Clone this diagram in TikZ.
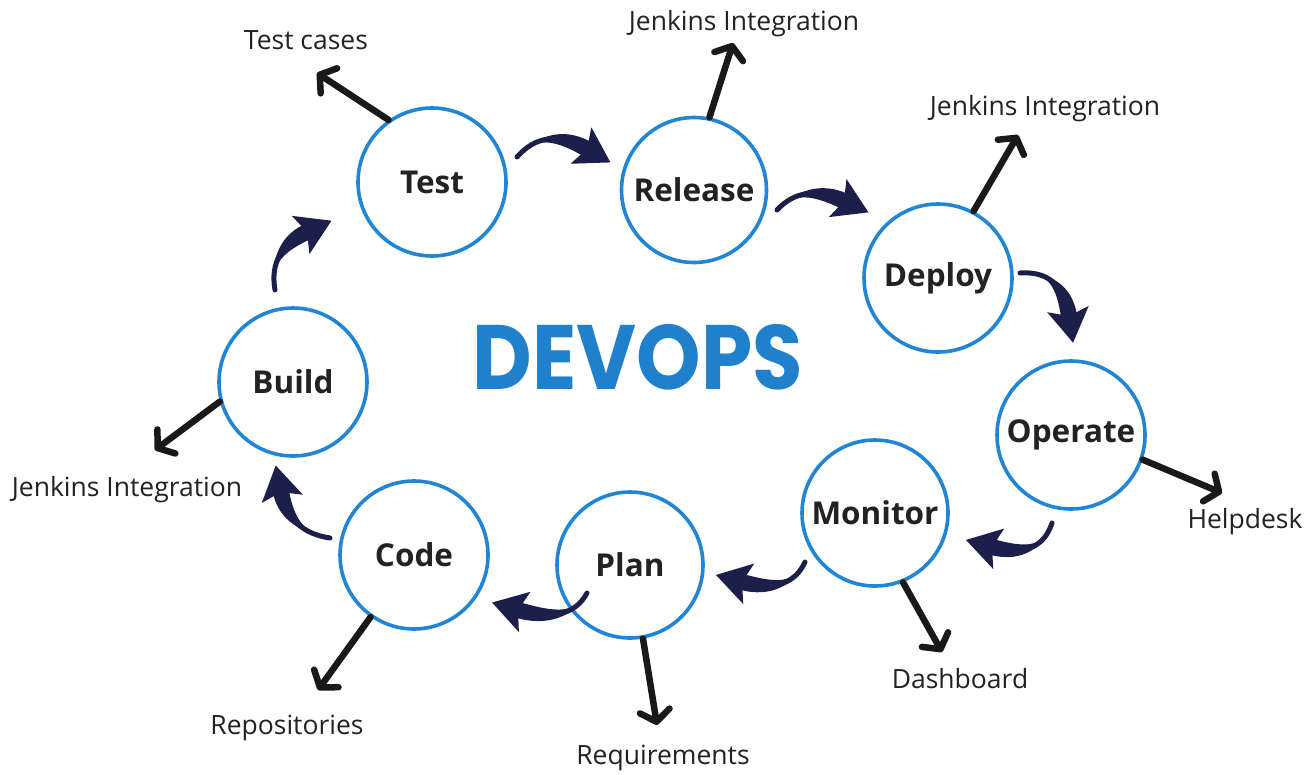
\documentclass[tikz,border=0pt]{standalone}
\usepackage{fontspec}
\setmainfont{Open Sans}
\newfontfamily\devfont{Poppins}
\usetikzlibrary{arrows.meta,calc}
\definecolor{ringblue}{HTML}{2185D5}
\definecolor{navy}{HTML}{1C1F4A}
\definecolor{devblue}{HTML}{1F80CC}
\definecolor{labelgray}{HTML}{222222}
\newcommand\curvarrow[3]{%
  \coordinate (cb) at ($(#3)!7pt!(#2)$);
  \coordinate (ca) at ($(#1)!0.667!(#2)$);
  \coordinate (cc) at ($(#3)!0.667!(#2)$);
  \draw[navy, line width=5pt, line cap=round] (#1) .. controls (ca) and (cc) .. (#3);
  \fill[navy] (#1) .. controls (ca) and ($(cc)!8pt!90:(#2)$) .. ($(#3)!8pt!90:(#2)$) -- ($(#3)!8pt!-90:(#2)$) .. controls ($(cc)!8pt!-90:(#2)$) and (ca) .. cycle;
  \fill[navy] ($(#3)!-27pt!(#2)$) -- ($(cb)!21pt!90:(#2)$) -- (#3) -- ($(cb)!21pt!-90:(#2)$) -- cycle;
}
\tikzset{
  stage/.style={circle, draw=ringblue, line width=3.6pt, fill=white, minimum size=148pt, inner sep=0pt,
    font=\fontsize{31.5}{34}\selectfont\bfseries, text=labelgray},
  tag/.style={font=\fontsize{26.5}{30}\selectfont, text=labelgray, inner sep=0pt},
  outarrow/.style={draw=black!90, line width=6.5pt, line cap=round,
    -{Straight Barb[length=11pt,width=30pt,round]}},
}
\begin{document}
\begin{tikzpicture}[x=1pt,y=-1pt]
\useasboundingbox (0,0) rectangle (1308,774);
% stages
\node[stage] (test) at (432,182) {Test};
\node[stage, minimum size=145pt] (release) at (694,190) {Release};
\node[stage] (deploy) at (938,278) {Deploy};
\node[stage] (operate) at (1071,435) {Operate};
\node[stage, minimum size=146pt] (monitor) at (875,513) {Monitor};
\node[stage, minimum size=146pt] (plan) at (630,565) {Plan};
\node[stage] (code) at (414,555) {Code};
\node[stage] (build) at (293,382) {Build};
% title
\node[text=devblue, inner sep=0pt, xscale=1.14, yscale=1.27] (title) at (638,357)
  {\devfont\fontsize{72}{72}\selectfont\bfseries DEVOPS};
% output labels
\node[tag] (tcases) at (306,40) {Test cases};
\node[tag] (jtop) at (744,24) {Jenkins Integration};
\node[tag] (jright) at (1045,109) {Jenkins Integration};
\node[tag] (help) at (1245,522) {Helpdesk};
\node[tag] (dash) at (960,679) {Dashboard};
\node[tag] (req) at (663,758) {Requirements};
\node[tag] (repo) at (287,728) {Repositories};
\node[tag] (jleft) at (127,490) {Jenkins Integration};
% arrow tips
\coordinate (ttest) at (317,73);
\coordinate (trel) at (733,43);
\coordinate (tdep) at (1018,135);
\coordinate (top) at (1222,493);
\coordinate (tmon) at (942,652);
\coordinate (tplan) at (657,725);
\coordinate (tcode) at (318,690);
\coordinate (tbuild) at (155,450);
\draw[outarrow] (test.125) -- (ttest);
\draw[outarrow] (release.78) -- (trel);
\draw[outarrow] (deploy.62) -- (tdep);
\draw[outarrow] (operate.-19) -- (top);
\draw[outarrow] (monitor.-68) -- (tmon);
\draw[outarrow] (plan.-80) -- (tplan);
\draw[outarrow] (code.235) -- (tcode);
\draw[outarrow] (build.195) -- (tbuild);
% cycle arrows
\coordinate (a1t) at (517,157); \coordinate (a1c) at (545,125); \coordinate (a1h) at (587,149);
\coordinate (a2t) at (777,210); \coordinate (a2c) at (803,182); \coordinate (a2h) at (844,201);
\coordinate (a3t) at (1020,273); \coordinate (a3c) at (1062,270); \coordinate (a3h) at (1069,316);
\coordinate (a4t) at (1052,523); \coordinate (a4c) at (1040,560); \coordinate (a4h) at (992,547);
\coordinate (a5t) at (805,562); \coordinate (a5c) at (790,595); \coordinate (a5h) at (742,582);
\coordinate (a6t) at (587,593); \coordinate (a6c) at (570,625); \coordinate (a6h) at (518,610);
\coordinate (a7t) at (330,538); \coordinate (a7c) at (289,532); \coordinate (a7h) at (281,492);
\coordinate (a8t) at (275,290); \coordinate (a8c) at (268,250); \coordinate (a8h) at (307,232);
\curvarrow{a1t}{a1c}{a1h}
\curvarrow{a2t}{a2c}{a2h}
\curvarrow{a3t}{a3c}{a3h}
\curvarrow{a4t}{a4c}{a4h}
\curvarrow{a5t}{a5c}{a5h}
\curvarrow{a6t}{a6c}{a6h}
\curvarrow{a7t}{a7c}{a7h}
\curvarrow{a8t}{a8c}{a8h}
\end{tikzpicture}
\end{document}
